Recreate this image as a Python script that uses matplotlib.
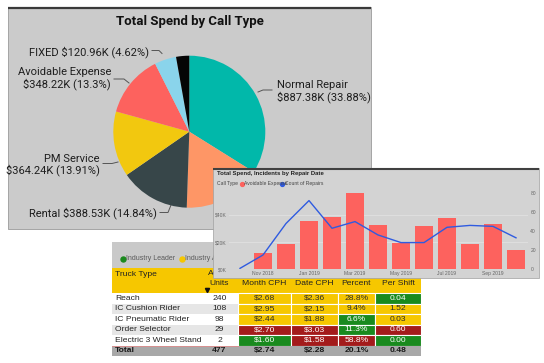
import matplotlib
matplotlib.use('Agg')
import matplotlib.pyplot as plt
from matplotlib.patches import Rectangle
import numpy as np

# ---------------- data ----------------
pie_names = ['Normal Repair', 'Parts', 'Rental', 'PM Service', 'Avoidable Expense', 'FIXED', 'Other']
pie_values_k = [887.38, 436.10, 388.53, 364.24, 348.22, 120.96, 73.30]
pie_pcts = [33.88, 16.65, 14.84, 13.91, 13.3, 4.62, 2.8]
pie_colors = ['#01B8AA', '#FE9666', '#374649', '#F2C80F', '#FD625E', '#8AD4EB', '#050505']

months = ['Oct 2018', 'Nov 2018', 'Dec 2018', 'Jan 2019', 'Feb 2019', 'Mar 2019', 'Apr 2019',
          'May 2019', 'Jun 2019', 'Jul 2019', 'Aug 2019', 'Sep 2019', 'Oct 2019']
spend_k = [0.5, 12.2, 18.3, 35.6, 38.3, 56.1, 32.4, 19.5, 31.5, 37.6, 18.3, 32.9, 14.4]
repairs = [1, 15, 48, 72, 43, 50, 36, 28, 28, 44, 46, 45, 33]
left_ticks = [0, 20, 40]
right_ticks = [0, 20, 40, 60, 80]

truck_types = ['Reach', 'IC Cushion Rider', 'IC Pneumatic Rider', 'Order Selector', 'Electric 3 Wheel Stand']
units = [240, 108, 98, 29, 2]
month_cph = [2.68, 2.95, 2.44, 2.70, 1.60]
date_cph = [2.36, 2.15, 1.88, 3.03, 1.58]
percent = [28.8, 9.4, 6.6, 11.3, 58.8]
per_shift = [0.04, 1.52, 0.03, 0.60, 0.00]
month_status = ['Y', 'Y', 'Y', 'R', 'G']
date_status = ['Y', 'Y', 'Y', 'R', 'R']
pct_status = ['Y', 'Y', 'G', 'G', 'R']
shift_status = ['G', 'Y', 'Y', 'R', 'G']
total_units, total_month, total_date, total_pct, total_shift = 477, 2.74, 2.28, 20.1, 0.48

# ---------------- layout helpers ----------------
W, H = 544, 363
fig = plt.figure(figsize=(W / 100, H / 100), dpi=100)
fig.patch.set_facecolor('white')


def box(x0, y0, x1, y1):
    return [x0 / W, 1 - y1 / H, (x1 - x0) / W, (y1 - y0) / H]


def canvas(z):
    ax = fig.add_axes([0, 0, 1, 1], zorder=z)
    ax.set_xlim(0, W)
    ax.set_ylim(H, 0)
    ax.axis('off')
    return ax


# ---------------- pie panel ----------------
c0 = canvas(0)
c0.add_patch(Rectangle((8, 7), 363, 222, fc='#cbcbcb', ec='#9a9a9a', lw=0.6))
c0.plot([8, 371], [7.6, 7.6], color='#3a3a3a', lw=1.6, solid_capstyle='butt')
c0.text(190, 22, 'Total Spend by Call Type', ha='center', va='center', fontsize=9.5,
        fontweight='bold', family='Roboto', color='#111111')

pax = fig.add_axes(box(113.3, 55.7, 265.3, 207.7), zorder=1)
pax.pie(pie_values_k, colors=pie_colors, startangle=90, counterclock=False, radius=1,
        wedgeprops=dict(linewidth=0))
pax.set_xlim(-1, 1)
pax.set_ylim(-1, 1)
pax.axis('off')

label_layout = {
    'Normal Repair': dict(pts=[(258, 92), (263, 90), (272, 90)], xy=(277, 91.5), ha='left', two=True),
    'Rental': dict(pts=[(171, 205), (168, 212.5), (160, 212.5)], xy=(157, 213), ha='right', two=False),
    'PM Service': dict(pts=[(118, 162), (112, 163.5), (103, 163.5)], xy=(100, 165), ha='right', two=True),
    'Avoidable Expense': dict(pts=[(129, 83), (124, 79), (114, 79)], xy=(111, 78.5), ha='right', two=True),
    'FIXED': dict(pts=[(162, 53.5), (159, 50.5), (152, 50.5)], xy=(149, 52.5), ha='right', two=False),
}
for name, val, pct in zip(pie_names, pie_values_k, pie_pcts):
    if name not in label_layout:
        continue
    L = label_layout[name]
    xs, ys = zip(*L['pts'])
    c0.plot(xs, ys, color='#555555', lw=0.7)
    sep = '\n' if L['two'] else ' '
    txt = f"{name}{sep}${val:.2f}K ({pct:g}%)"
    c0.text(L['xy'][0], L['xy'][1], txt, ha=L['ha'], va='center', fontsize=8,
            family='Roboto', color='#1e1e1e', linespacing=1.05,
            multialignment=L['ha'])

# ---------------- table ----------------
t = canvas(2)
tfont = 'Liberation Sans'
fs = 6.1
cols = [112, 201, 238, 291, 338, 375, 421]
row_edges = [293, 303.5, 314, 324.5, 335, 345.5]
YEL, GRN, RED = '#F6C700', '#198A1E', '#A31B1B'
scol = {'Y': YEL, 'G': GRN, 'R': RED}
tcol = {'Y': '#2b2b2b', 'G': 'white', 'R': 'white'}

t.add_patch(Rectangle((112, 242), 309, 26, fc='#c9c9c9', ec='none'))
t.add_patch(Rectangle((112, 268), 309, 25, fc=YEL, ec='none'))
t.plot(123, 259, 'o', ms=3.6, color='#1b8a1e')
t.text(126, 259, 'Industry Leader', fontsize=5, color='#5a5a5a', va='center', family=tfont)
t.plot(182, 259, 'o', ms=3.6, color=YEL)
t.text(185, 259, 'Industry Average', fontsize=5, color='#5a5a5a', va='center', family=tfont)

t.text(115, 274, 'Truck Type', fontsize=fs, va='center', ha='left', family=tfont, color='#222')
t.text(220, 273.5, 'Active', fontsize=fs, va='center', ha='center', family=tfont, color='#222')
hdr = ['Units', 'Month CPH', 'Date CPH', 'Percent', 'Per Shift']
for j, h in enumerate(hdr):
    cx = (cols[j + 1] + cols[j + 2]) / 2
    t.text(cx, 283.5, h, fontsize=fs, va='center', ha='center', family=tfont, color='#222')
t.plot(207, 289.5, marker='v', ms=3, color='#111', ls='none')

for i in range(len(truck_types)):
    y0, y1 = row_edges[i], row_edges[i] + 10.5
    cy = (y0 + y1) / 2
    bg = 'white' if i % 2 == 0 else '#e6e6e6'
    t.add_patch(Rectangle((cols[0], y0), cols[2] - cols[0], y1 - y0, fc=bg, ec='none'))
    t.text(cols[0] + 3, cy, truck_types[i], fontsize=fs, va='center', ha='left', family=tfont, color='#222')
    t.text((cols[1] + cols[2]) / 2, cy, f"{units[i]}", fontsize=fs, va='center', ha='center',
           family=tfont, color='#222')
    vals = [(f"${month_cph[i]:.2f}", month_status[i]), (f"${date_cph[i]:.2f}", date_status[i]),
            (f"{percent[i]:.1f}%", pct_status[i]), (f"{per_shift[i]:.2f}", shift_status[i])]
    for j, (s, st) in enumerate(vals):
        x0, x1 = cols[j + 2], cols[j + 3]
        t.add_patch(Rectangle((x0, y0), x1 - x0, y1 - y0, fc=scol[st], ec='white', lw=0.8))
        t.text((x0 + x1) / 2, cy, s, fontsize=fs, va='center', ha='center', family=tfont, color=tcol[st])

t.plot([112, 238], [345.5, 345.5], color='#d89090', lw=0.7)
ty0, ty1 = 345.5, 355.5
t.add_patch(Rectangle((112, ty0), 309, ty1 - ty0, fc='#a8a8a8', ec='none'))
tot = ['Total', f"{total_units}", f"${total_month:.2f}", f"${total_date:.2f}",
       f"{total_pct:.1f}%", f"{total_shift:.2f}"]
for j, s in enumerate(tot):
    if j == 0:
        t.text(cols[0] + 3, (ty0 + ty1) / 2, s, fontsize=fs, va='center', ha='left',
               family=tfont, fontweight='bold', color='#1a1a1a')
    else:
        t.text((cols[j] + cols[j + 1]) / 2, (ty0 + ty1) / 2, s, fontsize=fs, va='center',
               ha='center', family=tfont, fontweight='bold', color='#1a1a1a')

# ---------------- bar/line panel ----------------
b = canvas(3)
b.add_patch(Rectangle((213, 168), 326, 110, fc='#d3d3d3', ec='#a0a0a0', lw=0.5))
b.plot([213, 539], [168.6, 168.6], color='#404040', lw=1.5, solid_capstyle='butt')
b.text(217, 174, 'Total Spend, Incidents by Repair Date', fontsize=4.3, fontweight='bold',
       va='center', ha='left', family=tfont, color='#222')
b.text(217, 184, 'Call Type', fontsize=3.6, va='center', ha='left', family=tfont, color='#444')
b.plot(241.5, 184, 'o', ms=2.8, color='#FD625E')
b.text(244, 184, 'Avoidable Expense', fontsize=3.6, va='center', ha='left', family=tfont, color='#444')
b.plot(282, 184, 'o', ms=2.8, color='#2F5BE0')
b.text(285, 184, 'Count of Repairs', fontsize=3.6, va='center', ha='left', family=tfont, color='#444')

bax = fig.add_axes(box(228.5, 190, 527.5, 269.3), zorder=4)
bax.patch.set_alpha(0)
x = np.arange(len(months))
bax.bar(x, spend_k, width=0.75, color='#FD625E', zorder=2)
bax.set_xlim(-0.5, len(months) - 0.5)
bax.set_ylim(0, 58.1)
bax.set_yticks(left_ticks)
bax.set_yticklabels([f"${v}K" for v in left_ticks])
bax.set_xticks(x[1::2])
bax.set_xticklabels(months[1::2])
bax.tick_params(length=0, labelsize=3.6, colors='#666666', pad=1.5)
for lab in bax.get_xticklabels() + bax.get_yticklabels():
    lab.set_family(tfont)
bax.grid(axis='y', color='#e4e4e4', lw=0.5, zorder=0)
for s in bax.spines.values():
    s.set_visible(False)

rax = bax.twinx()
rax.set_zorder(5)
rax.patch.set_alpha(0)
rax.plot(x, repairs, color='#2F5BE0', lw=1.0)
rax.set_ylim(0, 83.1)
rax.set_yticks(right_ticks)
rax.tick_params(length=0, labelsize=3.6, colors='#666666', pad=2)
for lab in rax.get_yticklabels():
    lab.set_family(tfont)
for s in rax.spines.values():
    s.set_visible(False)

fig.savefig('out.png', dpi=100, facecolor='white')
